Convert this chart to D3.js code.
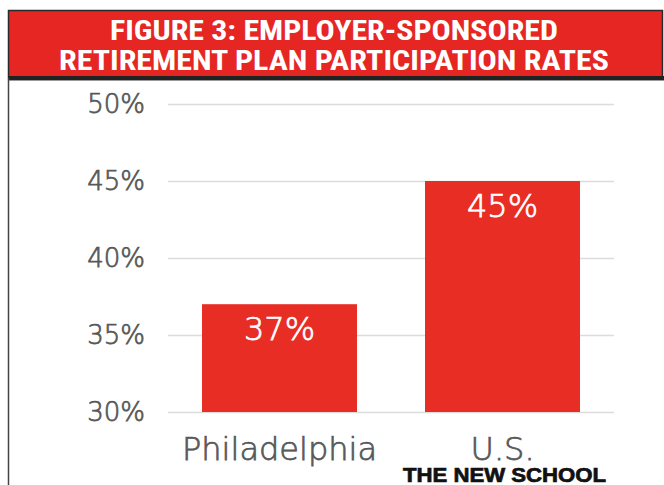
<!DOCTYPE html>
<html>
<head>
<meta charset="utf-8">
<script src="https://cdn.jsdelivr.net/npm/d3@7"></script>
<style>
	body { margin: 0; background: #fff; }
	svg { display: block; }
</style>
</head>
<body>
<svg id="chart" width="664" height="485"></svg>
<script>
const titleLines = ['FIGURE 3: EMPLOYER-SPONSORED', 'RETIREMENT PLAN PARTICIPATION RATES']
const categories = ['Philadelphia', 'U.S.']
const rates = [37, 45]
const yTicks = [30, 35, 40, 45, 50]
const credit = 'THE NEW SCHOOL'

const svg = d3.select('#chart')
const red = '#e82d24'
const grey = '#585858'

// header band
svg.append('rect')
	.attr('x', 8.5).attr('y', 10.5).attr('width', 654).attr('height', 67)
	.attr('fill', '#e52623').attr('stroke', '#2a2a2a').attr('stroke-width', 1.5)
svg.append('rect').attr('x', 8).attr('y', 76).attr('width', 656).attr('height', 4).attr('fill', '#222')
svg.append('line').attr('x1', 8).attr('x2', 664).attr('y1', 80.5).attr('y2', 80.5).attr('stroke', '#999')
svg.append('line').attr('x1', 8.5).attr('x2', 8.5).attr('y1', 78).attr('y2', 485)
	.attr('stroke', '#444').attr('stroke-width', 1.5)

const titleWidths = [448, 550]
svg.selectAll('text.title')
	.data(titleLines)
	.join('text')
	.attr('class', 'title')
	.attr('x', 334)
	.attr('y', (d, i) => 40 + i * 29.5)
	.attr('text-anchor', 'middle')
	.attr('fill', '#fff')
	.attr('font-family', '"Liberation Sans Narrow", "Roboto Condensed", "DejaVu Sans Condensed", sans-serif')
	.attr('font-weight', 'bold')
	.attr('font-size', 27)
	.attr('textLength', (d, i) => titleWidths[i])
	.attr('lengthAdjust', 'spacingAndGlyphs')
	.text(d => d)

// scales
const x = d3.scaleBand().domain(categories).range([168, 614]).paddingInner(0.305).paddingOuter(0.1525)
const y = d3.scaleLinear().domain([30, 50]).range([412, 104])

// light face, thickened a little with a stroke
const font = '"DejaVu Sans", sans-serif'
const lightText = (sel, col) => sel
	.attr('fill', col)
	.attr('stroke', col)
	.attr('stroke-width', 0.75)
	.attr('font-family', font)
	.attr('font-weight', 300)

const grid = svg.append('g')
grid.selectAll('line')
	.data(yTicks)
	.join('line')
	.attr('x1', 168).attr('x2', 614)
	.attr('y1', d => Math.round(y(d)) + 0.5).attr('y2', d => Math.round(y(d)) + 0.5)
	.attr('stroke', '#dcdcdc').attr('stroke-width', 1.5)

const yAxis = svg.append('g')
	.attr('transform', 'translate(145,0)')
	.call(d3.axisLeft(y).tickValues(yTicks).tickSize(0).tickPadding(0).tickFormat(d => d + '%'))
yAxis.select('.domain').remove()
yAxis.selectAll('text')
	.call(lightText, grey)
	.attr('font-size', 26)
	.attr('dy', '0.34em')

svg.append('g').selectAll('rect')
	.data(rates)
	.join('rect')
	.attr('x', (d, i) => x(categories[i]))
	.attr('width', x.bandwidth())
	.attr('y', d => y(d))
	.attr('height', d => y(30) - y(d))
	.attr('fill', red)

svg.append('g').selectAll('text')
	.data(rates)
	.join('text')
	.attr('x', (d, i) => x(categories[i]) + x.bandwidth() / 2)
	.attr('y', d => y(d) + 36)
	.attr('text-anchor', 'middle')
	.call(lightText, '#fff')
	.attr('font-size', 32)
	.text(d => d + '%')

const xAxis = svg.append('g')
	.attr('transform', 'translate(0,460)')
	.call(d3.axisBottom(x).tickSize(0).tickPadding(0))
xAxis.select('.domain').remove()
xAxis.selectAll('text')
	.call(lightText, grey)
	.attr('font-size', 32)
	.attr('dy', 0)

svg.append('text')
	.attr('x', 403).attr('y', 482)
	.attr('fill', '#111')
	.attr('stroke', '#111').attr('stroke-width', 0.7)
	.attr('font-family', '"Liberation Sans Narrow", "Liberation Sans", Arial, sans-serif')
	.attr('font-weight', 'bold')
	.attr('font-size', 20)
	.attr('textLength', 203)
	.attr('lengthAdjust', 'spacingAndGlyphs')
	.text(credit)
</script>
</body>
</html>
